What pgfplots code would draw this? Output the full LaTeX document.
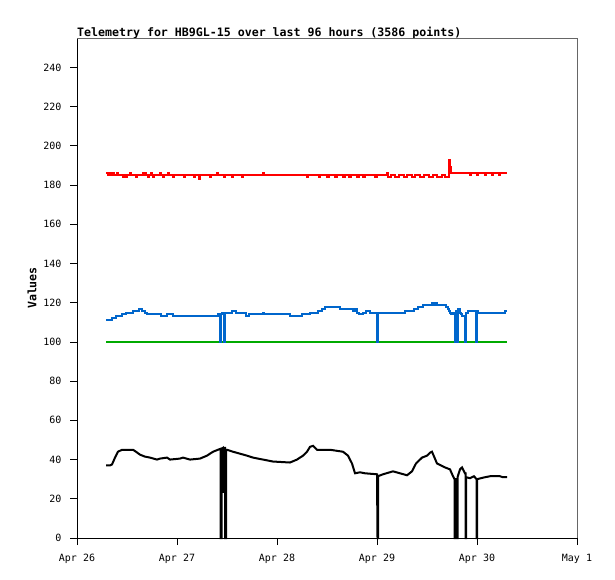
\documentclass[border=0pt]{standalone}
\usepackage{fontspec}
\setmonofont{DejaVu Sans Mono}
\usepackage{pgfplots}
\pgfplotsset{compat=1.18}
\definecolor{tblue}{RGB}{0,102,204}
\definecolor{tgreen}{RGB}{0,170,0}
\definecolor{tred}{RGB}{255,0,0}
\begin{document}
\begin{tikzpicture}
\path[use as bounding box] (0,0) rectangle (615pt,579pt);
\begin{axis}[
  name=ax,
  at={(77pt,41pt)}, anchor=south west,
  scale only axis, width=500pt, height=500pt,
  xmin=26, xmax=31, ymin=0, ymax=255,
  xtick={26,27,28,29,30,31},
  xticklabels={Apr 26,Apr 27,Apr 28,Apr 29,Apr 30,May 1},
  ytick={0,20,...,240},
  xtick pos=bottom, ytick pos=left,
  tick align=outside, major tick length=7pt,
  tick style={black, line width=0.8pt},
  axis line style={black, line width=0.8pt},
  /pgf/number format/assume math mode=true,
  tick label style={font=\fontsize{10}{12}\selectfont\ttfamily},
  xticklabel style={yshift=-6pt},
  yticklabel style={xshift=-5pt},
  title={Telemetry for HB9GL-15 over last 96 hours (3586 points)},
  title style={font=\fontsize{11.6}{13}\selectfont\ttfamily\bfseries, at={(axis description cs:0,1)}, anchor=base west, yshift=-5pt, inner sep=0pt},
  ylabel={Values},
  ylabel style={font=\fontsize{11.6}{13}\selectfont\ttfamily\bfseries, at={(axis description cs:-0.09,0.5)}, anchor=center},
  clip=false,
]
% green
\addplot[tgreen, line width=2pt] coordinates {(26.29,100) (30.30,100)};
% blue
\addplot[tblue, line width=2pt, const plot] coordinates {
(26.29,111) (26.35,112) (26.39,113) (26.45,114) (26.49,115) (26.56,116) (26.62,117) (26.65,116) (26.68,115) (26.70,114)
(26.84,113) (26.90,114) (26.96,113) (27.41,114) (27.43,100) (27.44,114) (27.45,115) (27.47,100) (27.48,115) (27.55,116)
(27.59,115) (27.69,113) (27.72,114) (27.86,115) (27.87,114) (28.13,113) (28.25,114) (28.33,115) (28.41,116) (28.45,117)
(28.48,118) (28.63,117) (28.76,116) (28.78,117) (28.80,115) (28.82,114) (28.86,115) (28.89,116) (28.93,115) (29.00,100)
(29.01,115) (29.28,116) (29.37,117) (29.41,118) (29.46,119) (29.55,120) (29.57,119) (29.59,120) (29.60,119) (29.69,118)
(29.71,117) (29.72,116) (29.73,115) (29.74,114) (29.76,115) (29.78,100) (29.79,116) (29.80,100) (29.81,117) (29.83,115)
(29.84,114) (29.85,113) (29.88,100) (29.89,115) (29.91,116) (29.99,100) (30.00,116) (30.01,115) (30.28,116) (30.30,116)
};
% red
\addplot[tred, line width=2pt, const plot] coordinates {
(26.29,186) (26.31,185) (26.32,186) (26.34,185) (26.35,186) (26.37,185) (26.40,186) (26.41,185) (26.46,184) (26.47,185)
(26.49,184) (26.50,185) (26.53,186) (26.54,185) (26.59,184) (26.60,185) (26.66,186) (26.67,185) (26.68,186) (26.69,185)
(26.71,184) (26.72,185) (26.74,186) (26.75,185) (26.76,184) (26.77,185) (26.83,186) (26.84,185) (26.86,184) (26.87,185)
(26.91,186) (26.92,185) (26.96,184) (26.97,185) (27.07,184) (27.08,185) (27.17,184) (27.18,185) (27.22,183) (27.23,185)
(27.33,184) (27.34,185) (27.40,186) (27.41,185) (27.47,184) (27.48,185) (27.55,184) (27.56,185) (27.65,184) (27.66,185)
(27.86,186) (27.87,185) (28.30,184) (28.31,185) (28.42,184) (28.43,185) (28.50,184) (28.52,185) (28.58,184) (28.60,185)
(28.66,184) (28.68,185) (28.72,184) (28.74,185) (28.80,184) (28.82,185) (28.86,184) (28.88,185) (28.98,184) (29.00,185)
(29.10,186) (29.11,184) (29.14,185) (29.18,184) (29.22,185) (29.27,184) (29.30,185) (29.35,184) (29.38,185) (29.43,184)
(29.47,185) (29.52,184) (29.56,185) (29.60,184) (29.65,185) (29.68,184) (29.72,193) (29.73,189) (29.74,186) (29.93,185)
(29.94,186) (30.00,185) (30.01,186) (30.08,185) (30.09,186) (30.15,185) (30.16,186) (30.22,185) (30.23,186) (30.30,186)
};
% black
\addplot[black, line width=2pt] coordinates {
(26.29,37) (26.33,37) (26.35,37.5) (26.38,41) (26.41,44) (26.45,45) (26.56,45) (26.59,44) (26.63,42.5) (26.68,41.5)
(26.73,41) (26.80,40) (26.83,40.5) (26.90,41) (26.93,40) (27.03,40.5) (27.06,41) (27.13,40) (27.23,40.5) (27.30,42)
(27.36,44) (27.41,45) (27.435,45.5) (27.435,0) (27.445,0) (27.445,45.5) (27.46,46) (27.462,23) (27.466,46) (27.48,46)
(27.48,0) (27.49,0) (27.49,45) (27.50,45) (27.56,44) (27.63,43) (27.70,42) (27.76,41) (27.86,40) (27.96,39)
(28.13,38.5) (28.20,40) (28.26,42) (28.30,44) (28.33,46.5) (28.36,47) (28.40,45) (28.53,45) (28.66,44) (28.71,42)
(28.75,38) (28.78,33) (28.83,33.5) (28.88,33) (29.00,32.5) (29.005,0) (29.01,0) (29.01,31.5) (29.06,32.5) (29.16,34)
(29.23,33) (29.30,32) (29.35,34) (29.39,38) (29.45,41) (29.50,42) (29.53,43.5) (29.55,44) (29.60,38) (29.68,36)
(29.73,35) (29.76,31.5) (29.775,30) (29.775,0) (29.78,0) (29.78,30) (29.80,30) (29.80,0) (29.805,0) (29.805,31)
(29.83,35) (29.85,36) (29.88,33) (29.885,33) (29.885,0) (29.89,0) (29.89,31) (29.93,30.5) (29.97,31.5) (29.995,30)
(29.995,0) (30.00,0) (30.00,30) (30.08,31) (30.13,31.5) (30.23,31.5) (30.26,31) (30.30,31)
};
\end{axis}
\draw[black!60, line width=0.8pt] (ax.north west) -- (ax.north east) -- (ax.south east);
\end{tikzpicture}
\end{document}
